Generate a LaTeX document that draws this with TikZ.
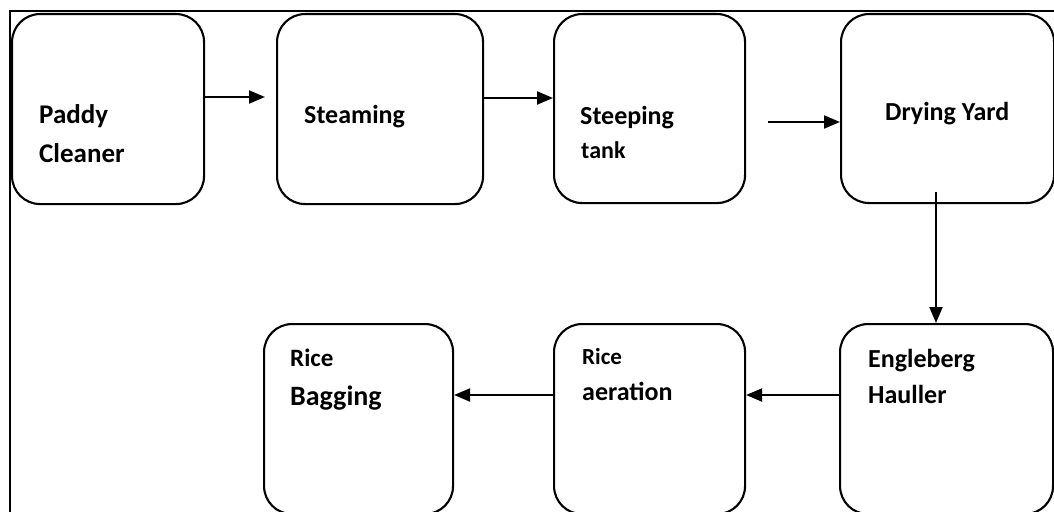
\documentclass[tikz,border=0pt]{standalone}
\usepackage{fontspec}
\setmainfont{Carlito}
\usetikzlibrary{arrows.meta}
\begin{document}
\begin{tikzpicture}[x=1pt,y=-1pt,
  box/.style={draw, line width=2.1pt, rounded corners=28pt, inner sep=0pt, anchor=north west},
  lbl/.style={anchor=base west, inner sep=0pt, font=\bfseries\fontsize{26}{30}\selectfont},
  arr/.style={line width=2.1pt, -{Triangle[length=16pt,width=13pt]}}]
\useasboundingbox (0,0) rectangle (1054,511);
\begin{scope}
\clip (0,0) rectangle (1054,511);
\draw[line width=2.2pt] (10,515) -- (10,11) -- (1058,11);
% boxes
\node[box, minimum width=192pt, minimum height=190pt] (pc) at (11,13) {};
\node[box, minimum width=206pt, minimum height=190pt] (st) at (276,13) {};
\node[box, minimum width=191pt, minimum height=189pt] (sp) at (553,13) {};
\node[box, minimum width=213pt, minimum height=189pt] (dy) at (840,13) {};
\node[box, minimum width=189pt, minimum height=190pt] (rb) at (263,323) {};
\node[box, minimum width=191pt, minimum height=190pt] (ra) at (553,323) {};
\node[box, minimum width=213pt, minimum height=190pt] (eh) at (839,323) {};
% labels
\node[lbl, font=\bfseries\fontsize{27}{30}\selectfont] (t1) at (39,123) {Paddy};
\node[lbl, font=\bfseries\fontsize{27}{30}\selectfont] (t2) at (39,162) {Cleaner};
\node[lbl] (t3) at (304,123) {Steaming};
\node[lbl] (t4) at (580,124) {Steeping};
\node[lbl, font=\bfseries\fontsize{24}{30}\selectfont] (t5) at (581,158) {tank};
\node[lbl] (t6) at (885,120) {Drying Yard};
\node[lbl, font=\bfseries\fontsize{25}{30}\selectfont] (t7) at (290,366) {Rice};
\node[lbl, font=\bfseries\fontsize{28}{30}\selectfont] (t8) at (290,405) {Bagging};
\node[lbl, font=\bfseries\fontsize{23}{30}\selectfont] (t9) at (582,364) {Rice};
\node[lbl] (t10) at (582,400) {aeration};
\node[lbl] (t11) at (868,367) {Engleberg};
\node[lbl] (t12) at (868,403) {Hauller};
% connectors
\coordinate (y1) at (0,97);
\coordinate (y2) at (0,98);
\coordinate (c3) at (768,122);
\coordinate (c4) at (936,192);
\coordinate (y5) at (0,395);
\draw[arr, shorten >=11pt] (pc.east |- y1) -- (st.west |- y1);
\draw[arr] (st.east |- y2) -- (sp.west |- y2);
\draw[arr] (c3) -- (dy.west |- c3);
\draw[arr] (c4) -- (c4 |- eh.north);
\draw[arr] (eh.west |- y5) -- (ra.east |- y5);
\draw[arr] (ra.west |- y5) -- (rb.east |- y5);
\end{scope}
\end{tikzpicture}
\end{document}
